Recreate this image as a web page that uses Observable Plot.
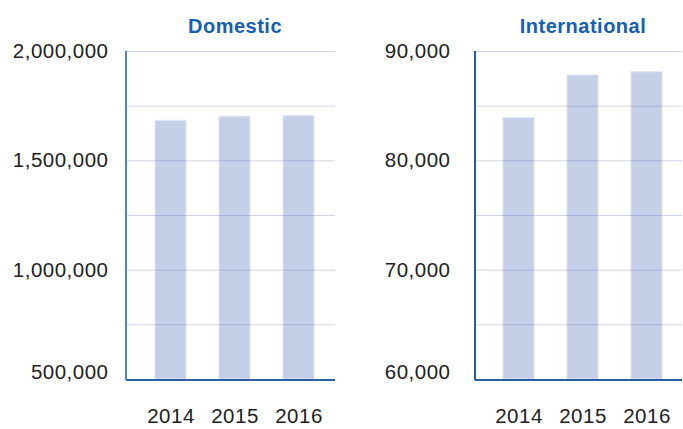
<!DOCTYPE html>
<html>
<head>
<meta charset="utf-8">
<script src="https://cdn.jsdelivr.net/npm/d3@7"></script>
<script src="https://cdn.jsdelivr.net/npm/@observablehq/plot@0.6"></script>
<style>
  html, body { margin: 0; padding: 0; background: #fff; }
  #chart { display: flex; flex-direction: row; width: 683px; height: 429px; }
</style>
</head>
<body>
<div id="chart"></div>
<script>
const years = ["2014", "2015", "2016"];
const domesticValues = [1683000, 1702000, 1705000];
const internationalValues = [83900, 87800, 88100];
const domesticTicks = [500000, 1000000, 1500000, 2000000];
const domesticGrid = [500000, 750000, 1000000, 1250000, 1500000, 1750000, 2000000];
const internationalTicks = [60000, 70000, 80000, 90000];
const internationalGrid = [60000, 65000, 70000, 75000, 80000, 85000, 90000];
const titles = ["Domestic", "International"];

function axisLine(color) {
  return (index, scales, values, dims) => {
    const x = dims.marginLeft;
    return d3.create("svg:line")
      .attr("x1", x).attr("x2", x)
      .attr("y1", dims.marginTop).attr("y2", dims.height - dims.marginBottom + 1)
      .attr("stroke", color).attr("stroke-width", 2)
      .node();
  };
}

function panel({title, values, ticks, grid, width, marginLeft, barRange, tickPadding, axisColor}) {
  const data = years.map((year, i) => ({year, value: values[i]}));
  const base = ticks[0];
  const top = ticks[ticks.length - 1];
  const labelStyle = {tickSize: 0, tickPadding, tickFormat: d3.format(","), fontSize: 20.5, fill: "#222", label: null};
  return Plot.plot({
    width, height: 429,
    marginTop: 51, marginBottom: 50, marginLeft, marginRight: 1,
    style: {fontFamily: "'Liberation Sans', Arial, Helvetica, sans-serif", background: "white", letterSpacing: "0.5px", overflow: "visible"},
    x: {domain: years, range: barRange, paddingInner: 0.52, paddingOuter: 0, label: null},
    y: {domain: [base, top], label: null},
    marks: [
      Plot.barY(data, {x: "year", y1: base, y2: "value", fill: "#c5cfe8", stroke: "#dde3f2", strokeWidth: 1}),
      Plot.gridY(grid, {stroke: "#5a74b4", strokeOpacity: 0.3, strokeWidth: 1}),
      Plot.ruleY([base], {stroke: "#2a5ea6", strokeWidth: 2, dy: 0.5}),
      axisLine(axisColor),
      Plot.axisY(ticks.slice(1), labelStyle),
      Plot.axisY([base], {...labelStyle, dy: -7}),
      Plot.axisX({tickSize: 0, tickPadding: 29, fontSize: 20.5, fill: "#222", label: null}),
      Plot.text([title], {x: () => years[1], frameAnchor: "top", dy: -32.8, fontSize: 20, fontWeight: "bold", fill: "#1560b0"})
    ]
  });
}

const chart = document.getElementById("chart");
chart.append(panel({
  title: titles[0], values: domesticValues, ticks: domesticTicks, grid: domesticGrid,
  width: 336, marginLeft: 126, barRange: [154, 314], tickPadding: 18, axisColor: "#4f86c0"
}));
chart.append(panel({
  title: titles[1], values: internationalValues, ticks: internationalTicks, grid: internationalGrid,
  width: 347, marginLeft: 139, barRange: [166, 327], tickPadding: 25, axisColor: "#215f9f"
}));
</script>
</body>
</html>
